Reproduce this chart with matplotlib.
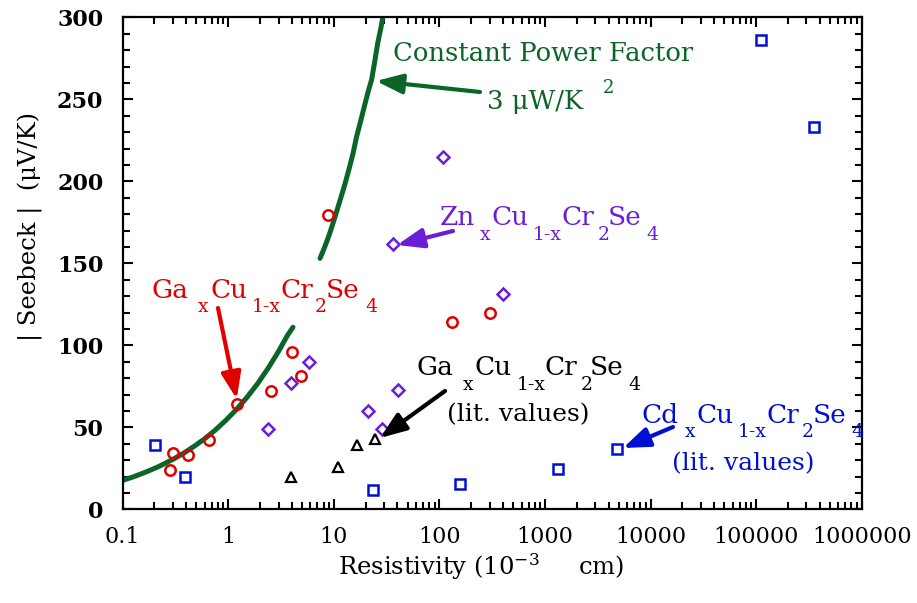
import matplotlib
matplotlib.use("Agg")
import matplotlib.pyplot as plt
from matplotlib.ticker import FixedLocator, NullFormatter

# ---------------- data ----------------
ga_rho = [0.283, 0.301, 0.412, 0.656, 1.20, 2.54, 4.04, 4.88, 8.85, 131, 301]
ga_S = [24.2, 34.6, 32.9, 42.5, 64.4, 72.1, 95.7, 81.3, 179.3, 114, 119.5]

zn_rho = [2.36, 3.93, 5.77, 21.2, 28.4, 36.5, 40.7, 109, 396]
zn_S = [49.2, 76.8, 89.6, 60, 49.2, 161.6, 73, 214.8, 131.5]

cd_rho = [0.204, 0.392, 23.3, 156, 1334, 4830, 1.107e5, 3.54e5]
cd_S = [39, 19.7, 11.6, 15.7, 24.8, 36.6, 286.4, 233]

lit_rho = [3.93, 10.9, 16.7, 24.3]
lit_S = [19.7, 25.8, 39, 42.9]

# constant power factor curve (3 uW/K^2), two drawn segments
pf_lo_rho = [0.1, 0.13, 0.17, 0.22, 0.3, 0.38, 0.48, 0.6, 0.75, 0.95, 1.2,
             1.5, 1.9, 2.4, 3.0, 3.6, 4.1]
pf_lo_S = [17.6, 20.1, 23.0, 26.1, 30.5, 34.3, 38.6, 43.1, 48.2, 54.3, 61.0,
           68.2, 76.7, 86.3, 96.4, 105.6, 111]
pf_hi_rho = [7.4, 8.2, 9.0, 10.0, 11.4, 12.7, 14.0, 15.2, 16.4, 18.0, 19.5,
             21.2, 22.8, 24.4, 26.0, 27.8, 29.5]
pf_hi_S = [153, 160, 167, 176, 188, 198, 208, 217, 227, 237, 246,
           255, 262, 273, 284, 293, 302]

xtick_vals = [0.1, 1, 10, 100, 1000, 10000, 100000, 1000000]
xtick_labels = ["0.1", "1", "10", "100", "1000", "10000", "100000", "1000000"]
ytick_vals = [0, 50, 100, 150, 200, 250, 300]
ytick_labels = ["0", "50", "100", "150", "200", "250", "300"]

# ---------------- style ----------------
W, H = 917, 603
FONT = "DejaVu Serif"
plt.rcParams["font.family"] = [FONT]
plt.rcParams["mathtext.fontset"] = "dejavuserif"

GREEN = "#0b6428"
RED = "#e00000"
PURPLE = "#6a1fd6"
BLUE = "#0010d0"
BLACK = "#000000"

fig = plt.figure(figsize=(W / 100, H / 100), dpi=100)
L, R, T, B = 122.7, 861.7, 17.3, 509.3
ax = fig.add_axes([L / W, 1 - B / H, (R - L) / W, (B - T) / H])

ax.set_xscale("log")
ax.set_xlim(0.1, 1e6)
ax.set_ylim(0, 300)

ax.plot(pf_lo_rho, pf_lo_S, color=GREEN, lw=3.6, solid_capstyle="round",
        solid_joinstyle="round", zorder=2)
ax.plot(pf_hi_rho, pf_hi_S, color=GREEN, lw=3.6, solid_capstyle="round",
        solid_joinstyle="round", zorder=2)

mk = dict(linestyle="none", markerfacecolor="none", zorder=3)
ax.plot(ga_rho, ga_S, marker="o", markersize=7.5, markeredgewidth=1.8, color=RED, **mk)
ax.plot(zn_rho, zn_S, marker="D", markersize=6, markeredgewidth=1.8, color=PURPLE, **mk)
ax.plot(cd_rho, cd_S, marker="s", markersize=7.5, markeredgewidth=1.8, color=BLUE, **mk)
ax.plot(lit_rho, lit_S, marker="^", markersize=7.5, markeredgewidth=1.6, color=BLACK, **mk)

# ticks
ax.xaxis.set_major_locator(FixedLocator(xtick_vals))
ax.set_xticklabels(xtick_labels)
minor = [m * d for d in xtick_vals[:-1] for m in range(2, 10)]
ax.xaxis.set_minor_locator(FixedLocator(minor))
ax.xaxis.set_minor_formatter(NullFormatter())
ax.yaxis.set_major_locator(FixedLocator(ytick_vals))
ax.set_yticklabels(ytick_labels, fontweight="bold")
ax.yaxis.set_minor_locator(FixedLocator(list(range(0, 301, 10))))
ax.tick_params(which="both", direction="in", top=True, right=True, width=1.5)
ax.tick_params(which="major", length=7)
ax.tick_params(which="minor", length=5)
ax.tick_params(axis="x", which="major", labelsize=16, pad=12)
ax.tick_params(axis="y", which="major", labelsize=16, pad=14)
for sp in ax.spines.values():
    sp.set_linewidth(1.6)


def put(x, y, s, size, color, **kw):
    """place text at reference pixel coords (x from left, baseline y from top)"""
    fig.text(x / W, 1 - y / H, s, fontsize=size, color=color,
             ha="left", va="baseline", **kw)


def arrow(tail, tip, color):
    ax.annotate("", xy=(tip[0], H - tip[1]), xycoords="figure pixels",
                xytext=(tail[0], H - tail[1]), textcoords="figure pixels",
                arrowprops=dict(arrowstyle="-|>,head_length=0.8,head_width=0.3",
                                mutation_scale=20, lw=3, color=color,
                                shrinkA=0, shrinkB=0), zorder=5)


FS = 19
SS = 13.5

# Constant power factor
put(393, 60.7, "Constant Power Factor", 18.6, GREEN)
put(487, 109.3, "3 \u03bcW/K", 18.6, GREEN)
put(603, 93.3, "2", 13, GREEN)
arrow((480, 92), (376, 81), GREEN)

# Red label
for s, x, y, fs in [("Ga", 151.7, 298, FS), ("x", 198, 312, SS), ("Cu", 210, 298, FS),
                    ("1-x", 251.7, 312, SS), ("Cr", 280, 298, FS), ("2", 315, 312, SS),
                    ("Se", 326, 298, FS), ("4", 365, 312, SS)]:
    put(x, y, s, fs, RED)
arrow((218, 308), (236.7, 399), RED)

# Purple label
for s, x, y, fs in [("Zn", 440, 225, FS), ("x", 480, 240, SS), ("Cu", 491.7, 225, FS),
                    ("1-x", 533, 240, SS), ("Cr", 561.7, 225, FS), ("2", 597.7, 240, SS),
                    ("Se", 608, 225, FS), ("4", 646.7, 240, SS)]:
    put(x, y, s, fs, PURPLE)
arrow((453, 231), (397, 245), PURPLE)

# Black label
for s, x, y, fs in [("Ga", 416, 375, FS), ("x", 462.7, 390, SS), ("Cu", 475, 375, FS),
                    ("1-x", 516.7, 390, SS), ("Cr", 545, 375, FS), ("2", 580.7, 390, SS),
                    ("Se", 590, 375, FS), ("4", 628, 390, SS)]:
    put(x, y, s, fs, BLACK)
put(446.7, 421.7, "(lit. values)", 18, BLACK)
arrow((445, 391), (380, 438), BLACK)

# Blue label
for s, x, y, fs in [("Cd", 641.7, 422.7, FS), ("x", 685, 436.7, SS), ("Cu", 696.7, 422.7, FS),
                    ("1-x", 738, 436.7, SS), ("Cr", 766.7, 422.7, FS), ("2", 801.7, 436.7, SS),
                    ("Se", 813, 422.7, FS), ("4", 851.7, 436.7, SS)]:
    put(x, y, s, fs, BLUE)
put(671.7, 470, "(lit. values)", 18, BLUE)
arrow((673, 427), (623, 448), BLUE)

# Axis labels
put(338, 575, "Resistivity (10$^{\\mathrm{-3}}$     cm)", 17.5, BLACK)
fig.text(30 / W, 1 - 226 / H, "| Seebeck |  (\u03bcV/K)", fontsize=17.5, rotation=90,
         ha="center", va="center")

fig.savefig("out.png", dpi=100)
